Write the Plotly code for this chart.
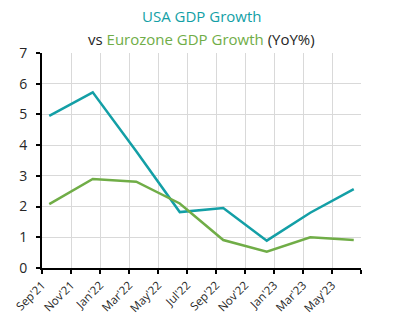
import plotly.graph_objects as go

months = ["Sep'21","Oct'21","Nov'21","Dec'21","Jan'22","Feb'22","Mar'22","Apr'22","May'22","Jun'22",
          "Jul'22","Aug'22","Sep'22","Oct'22","Nov'22","Dec'22","Jan'23","Feb'23","Mar'23","Apr'23",
          "May'23","Jun'23"]
quarter_months = ["Sep'21","Dec'21","Mar'22","Jun'22","Sep'22","Dec'22","Mar'23","Jun'23"]
usa = [4.95, 5.72, 3.8, 1.82, 1.95, 0.89, 1.8, 2.57]
euro = [2.08, 2.9, 2.81, 2.1, 0.91, 0.53, 1.0, 0.91]
tick_labels = ["Sep'21","Nov'21","Jan'22","Mar'22","May'22","Jul'22","Sep'22","Nov'22","Jan'23","Mar'23","May'23",""]

xq = [months.index(m) for m in quarter_months]
tickvals = [i - 0.5 for i in range(0, len(months) + 1, 2)]

TEAL = "#139fa6"
GREEN = "#70ad47"

fig = go.Figure()
fig.add_trace(go.Scatter(x=xq, y=usa, mode="lines", line=dict(color=TEAL, width=2.5), name="USA"))
fig.add_trace(go.Scatter(x=xq, y=euro, mode="lines", line=dict(color=GREEN, width=2.5), name="Eurozone"))

fig.update_layout(
    width=397, height=327,
    margin=dict(l=42, r=36, t=53, b=59),
    paper_bgcolor="white", plot_bgcolor="white",
    showlegend=False,
    font=dict(family="Open Sans, Noto Sans, sans-serif", size=11, color="#404040"),
)
fig.update_xaxes(
    range=[-0.5, len(months) - 0.5],
    tickmode="array", tickvals=tickvals, ticktext=tick_labels,
    tickangle=-45,
    showgrid=True, gridcolor="#d9d9d9", gridwidth=1,
    showline=True, linecolor="black", linewidth=2,
    ticks="outside", ticklen=4, tickcolor="black", tickwidth=2,
    zeroline=False,
    tickfont=dict(size=11.5, color="#262626"),
)
fig.update_yaxes(
    range=[0, 7], dtick=1,
    showgrid=True, gridcolor="#d9d9d9", gridwidth=1,
    showline=True, linecolor="black", linewidth=2,
    ticks="outside", ticklen=4, tickcolor="black", tickwidth=2,
    ticklabelstandoff=6,
    zeroline=False,
    tickfont=dict(size=14, color="#262626"),
)

fig.add_annotation(
    xref="paper", yref="paper", x=0.5, y=1, yshift=37, showarrow=False,
    text="USA GDP Growth", font=dict(size=15, color=TEAL), xanchor="center", yanchor="middle",
)
fig.add_annotation(
    xref="paper", yref="paper", x=0.5, y=1, yshift=14, showarrow=False,
    text=f"vs <span style='color:{GREEN}'>Eurozone GDP Growth</span> (YoY%)",
    font=dict(size=15, color="#262626"), xanchor="center", yanchor="middle",
)

fig.write_html("out.html")
